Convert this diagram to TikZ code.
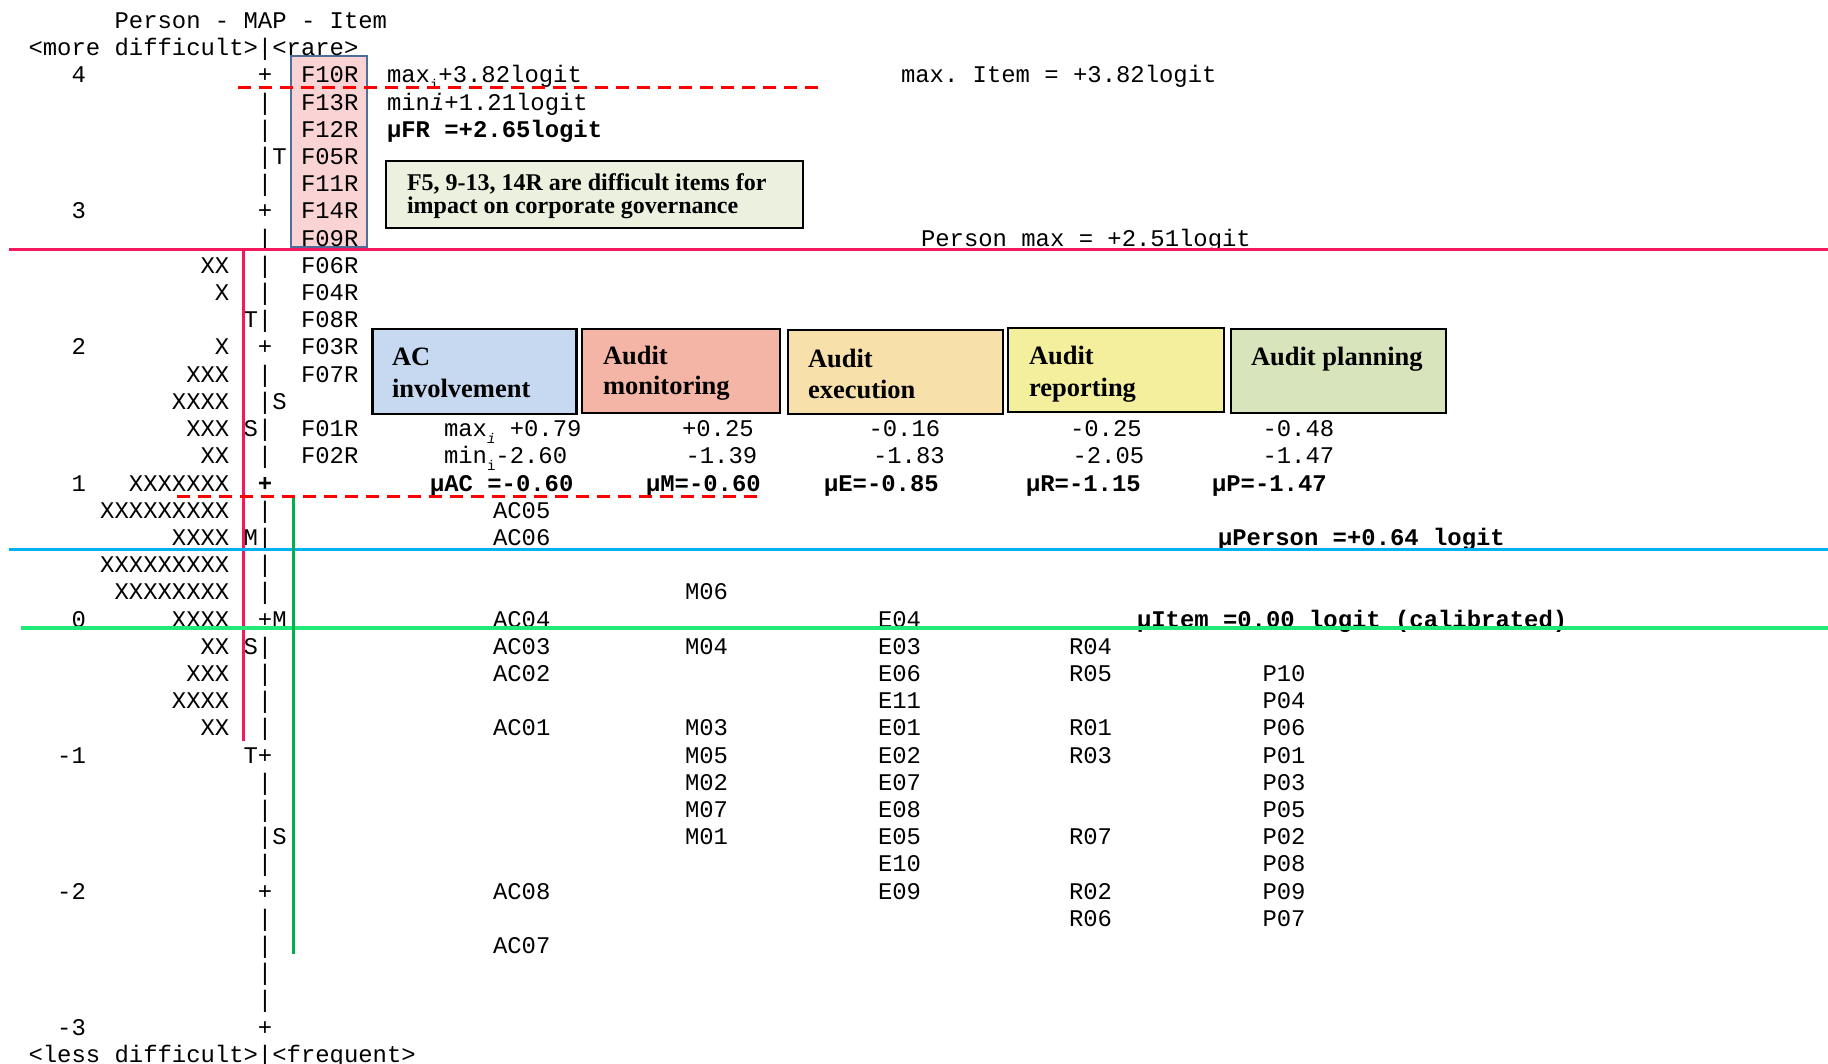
\documentclass[tikz,border=0pt]{standalone}
\usepackage{fontspec}
\newfontfamily\wmono{Liberation Mono}
\newfontfamily\wserif{Liberation Serif}
\frenchspacing
\definecolor{redsolid}{HTML}{F5185C}
\definecolor{reddash}{HTML}{FF0000}
\definecolor{bluel}{HTML}{00B0F0}
\definecolor{greenh}{HTML}{22E87A}
\definecolor{greenv}{HTML}{00B04F}
\definecolor{cAC}{HTML}{C6D9F1}
\definecolor{cMon}{HTML}{F4B4A6}
\definecolor{cExe}{HTML}{F8E0AA}
\definecolor{cRep}{HTML}{F4EF9D}
\definecolor{cPla}{HTML}{D8E4BC}
\definecolor{cFbox}{HTML}{FAD4D4}
\definecolor{cFedge}{HTML}{4F6D9A}
\definecolor{cNote}{HTML}{EBF1DE}
\newcounter{nd}
\tikzset{
  mtxt/.style={anchor=base west, inner sep=0pt, outer sep=0pt, font=\wmono\frenchspacing\fontsize{23.9}{27}\selectfont},
  mbold/.style={mtxt, font=\wmono\frenchspacing\bfseries\fontsize{23.9}{27}\selectfont},
  boxtxt/.style={anchor=base west, inner sep=0pt, outer sep=0pt, font=\wserif\bfseries\fontsize{26.5}{31}\selectfont},
  notetxt/.style={anchor=base west, inner sep=0pt, outer sep=0pt, font=\wserif\bfseries\fontsize{24}{24}\selectfont},
  catbox/.style={draw=black, line width=2.2pt, inner sep=0pt},
  redsol/.style={draw=redsolid, line width=3pt},
  reddsh/.style={draw=reddash, line width=3.5pt, dash pattern=on 13pt off 8pt},
  blueln/.style={draw=bluel, line width=3pt},
  greenhl/.style={draw=greenh, line width=3.5pt},
  greenvl/.style={draw=greenv, line width=3pt},
}
% column/row placed mono text
\newcommand{\gA}[3]{\stepcounter{nd}\node[mtxt] (a\arabic{nd}) at ({14.2+14.34*(#1)},{83+27.2*(#2)}) {#3};}
\newcommand{\gB}[3]{\stepcounter{nd}\node[mbold] (a\arabic{nd}) at ({14.2+14.34*(#1)},{83+27.2*(#2)}) {#3};}
% free x, row
\newcommand{\gP}[3]{\stepcounter{nd}\node[mtxt] (a\arabic{nd}) at (#1,{83+27.2*(#2)}) {#3};}
\newcommand{\gQ}[3]{\stepcounter{nd}\node[mbold] (a\arabic{nd}) at (#1,{83+27.2*(#2)}) {#3};}
\newcommand{\subi}[1]{\raisebox{-0.28em}{\fontsize{14}{14}\selectfont #1}}
\begin{document}
\begin{tikzpicture}[x=1pt,y=-1pt]
\useasboundingbox (0,0) rectangle (1828,1064);
% boxes
\node[draw=cFedge, line width=1.8pt, fill=cFbox, minimum width=76pt, minimum height=191pt, inner sep=0pt] (fbox) at (329,151.5) {};
\node[catbox, fill=cNote, minimum width=417pt, minimum height=67pt] (note) at (594.5,194.5) {};
\node[catbox, fill=cAC, minimum width=204pt, minimum height=85pt] (bAC) at (474.5,371.5) {};
\node[catbox, fill=cMon, minimum width=198pt, minimum height=84pt] (bMon) at (681,371) {};
\node[catbox, fill=cExe, minimum width=215pt, minimum height=84pt] (bExe) at (895.5,372) {};
\node[catbox, fill=cRep, minimum width=216pt, minimum height=84pt] (bRep) at (1116,370) {};
\node[catbox, fill=cPla, minimum width=215pt, minimum height=84pt] (bPla) at (1338.5,371) {};
% box texts
\node[notetxt] (nt1) at (407,191) {F5, 9-13, 14R are difficult items for};
\node[notetxt] (nt2) at (407,214) {impact on corporate governance};
\node[boxtxt] (tAC1) at (392,366) {AC};
\node[boxtxt] (tAC2) at (392,397) {involvement};
\node[boxtxt] (tMo1) at (603,364) {Audit};
\node[boxtxt] (tMo2) at (603,395) {monitoring};
\node[boxtxt] (tEx1) at (808,367) {Audit};
\node[boxtxt] (tEx2) at (808,398) {execution};
\node[boxtxt] (tRe1) at (1029,365) {Audit};
\node[boxtxt] (tRe2) at (1029,396) {reporting};
\node[boxtxt] (tPl1) at (1251,366) {Audit planning};
% left axis
\gA{7}{-2}{Person - MAP - Item}
\gA{1}{-1}{<more difficult>|<rare>}
\gA{4}{0}{4} \gA{17}{0}{+} \gA{20}{0}{F10R}
\gA{17}{1}{|} \gA{20}{1}{F13R}
\gA{17}{2}{|} \gA{20}{2}{F12R}
\gA{17}{3}{|T} \gA{20}{3}{F05R}
\gA{17}{4}{|} \gA{20}{4}{F11R}
\gA{4}{5}{3} \gA{17}{5}{+} \gA{20}{5}{F14R}
\gA{17}{6}{|} \gA{20}{6}{F09R}
\gA{13}{7}{XX} \gA{17}{7}{|} \gA{20}{7}{F06R}
\gA{14}{8}{X} \gA{17}{8}{|} \gA{20}{8}{F04R}
\gA{16}{9}{T|} \gA{20}{9}{F08R}
\gA{4}{10}{2} \gA{14}{10}{X} \gA{17}{10}{+} \gA{20}{10}{F03R}
\gA{12}{11}{XXX} \gA{17}{11}{|} \gA{20}{11}{F07R}
\gA{11}{12}{XXXX} \gA{17}{12}{|S}
\gA{12}{13}{XXX} \gA{16}{13}{S|} \gA{20}{13}{F01R}
\gA{13}{14}{XX} \gA{17}{14}{|} \gA{20}{14}{F02R}
\gA{4}{15}{1} \gA{8}{15}{XXXXXXX} \gB{17}{15}{+}
\gA{6}{16}{XXXXXXXXX} \gA{17}{16}{|}
\gA{11}{17}{XXXX} \gA{16}{17}{M|}
\gA{6}{18}{XXXXXXXXX} \gA{17}{18}{|}
\gA{7}{19}{XXXXXXXX} \gA{17}{19}{|}
\gA{4}{20}{0} \gA{11}{20}{XXXX} \gA{17}{20}{+M}
\gA{13}{21}{XX} \gA{16}{21}{S|}
\gA{12}{22}{XXX} \gA{17}{22}{|}
\gA{11}{23}{XXXX} \gA{17}{23}{|}
\gA{13}{24}{XX} \gA{17}{24}{|}
\gA{3}{25}{-1} \gA{16}{25}{T+}
\gA{17}{26}{|} \gA{17}{27}{|} \gA{17}{28}{|S} \gA{17}{29}{|}
\gA{3}{30}{-2} \gA{17}{30}{+}
\gA{17}{31}{|} \gA{17}{32}{|} \gA{17}{33}{|} \gA{17}{34}{|}
\gA{3}{35}{-3} \gA{17}{35}{+}
\gA{1}{36}{<less difficult>|<frequent>}
% right-hand annotations
\gA{26}{0}{max\subi{i}+3.82logit}
\gA{26}{1}{min\textit{i}+1.21logit}
\gB{26}{2}{µFR =+2.65logit}
\gP{901}{0}{max. Item = +3.82logit}
\gP{921}{6}{Person max = +2.51logit}
\gP{444}{13}{max\subi{\itshape i} +0.79}
\gP{444}{14}{min\subi{i}-2.60}
\gP{682}{13}{+0.25} \gP{868.5}{13}{-0.16} \gP{1070}{13}{-0.25} \gP{1262.5}{13}{-0.48}
\gP{685.5}{14}{-1.39} \gP{873}{14}{-1.83} \gP{1072.5}{14}{-2.05} \gP{1262.5}{14}{-1.47}
\gQ{430}{15}{µAC =-0.60} \gQ{646}{15}{µM=-0.60} \gQ{824}{15}{µE=-0.85} \gQ{1026}{15}{µR=-1.15} \gQ{1212}{15}{µP=-1.47}
\gQ{1218}{17}{µPerson =+0.64 logit}
\gQ{1137}{20}{µItem =0.00 logit (calibrated)}
% item columns
\gP{493}{16}{AC05} \gP{493}{17}{AC06} \gP{493}{20}{AC04} \gP{493}{21}{AC03}
\gP{493}{22}{AC02} \gP{493}{24}{AC01} \gP{493}{30}{AC08} \gP{493}{32}{AC07}
\gP{685}{19}{M06} \gP{685}{21}{M04} \gP{685}{24}{M03} \gP{685}{25}{M05}
\gP{685}{26}{M02} \gP{685}{27}{M07} \gP{685}{28}{M01}
\gP{878}{20}{E04} \gP{878}{21}{E03} \gP{878}{22}{E06} \gP{878}{23}{E11}
\gP{878}{24}{E01} \gP{878}{25}{E02} \gP{878}{26}{E07} \gP{878}{27}{E08}
\gP{878}{28}{E05} \gP{878}{29}{E10} \gP{878}{30}{E09}
\gP{1069}{21}{R04} \gP{1069}{22}{R05} \gP{1069}{24}{R01} \gP{1069}{25}{R03}
\gP{1069}{28}{R07} \gP{1069}{30}{R02} \gP{1069}{31}{R06}
\gP{1262.5}{22}{P10} \gP{1262.5}{23}{P04} \gP{1262.5}{24}{P06} \gP{1262.5}{25}{P01}
\gP{1262.5}{26}{P03} \gP{1262.5}{27}{P05} \gP{1262.5}{28}{P02} \gP{1262.5}{29}{P08}
\gP{1262.5}{30}{P09} \gP{1262.5}{31}{P07}
% lines
\coordinate (rsL) at (9,249.5); \coordinate (rsR) at (1828,249.5);
\coordinate (rvT) at (243,249.5); \coordinate (rvB) at (243,741);
\coordinate (d1L) at (238,87.4); \coordinate (d1R) at (822,87.4);
\coordinate (d2L) at (177,496.6); \coordinate (d2R) at (764,496.6);
\coordinate (blL) at (9,549); \coordinate (blR) at (1828,549);
\coordinate (ghL) at (21,628); \coordinate (ghR) at (1828,628);
\coordinate (gvT) at (293,498); \coordinate (gvB) at (293,954);
\draw[redsol] (rsL) -- (rsR);
\draw[redsol] (rvT) -- (rvB);
\draw[reddsh] (d1L) -- (d1R);
\draw[reddsh] (d2L) -- (d2R);
\draw[blueln] (blL) -- (blR);
\draw[greenhl] (ghL) -- (ghR);
\draw[greenvl] (gvT) -- (gvB);
\end{tikzpicture}
\end{document}
